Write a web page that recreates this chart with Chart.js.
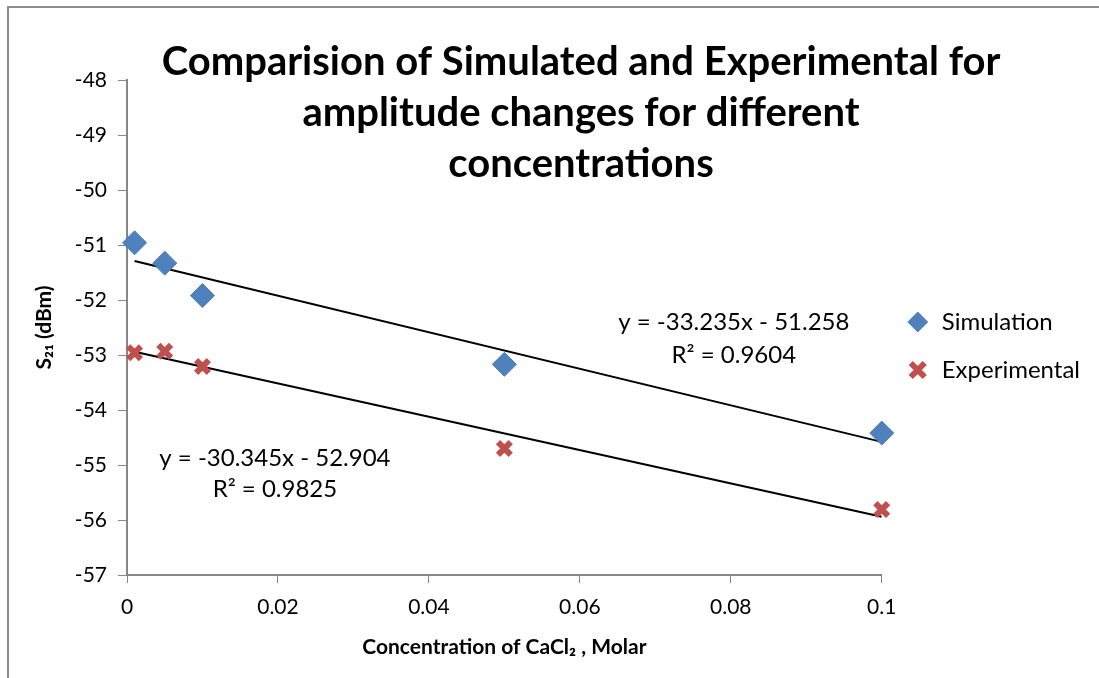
<!DOCTYPE html>
<html lang="en">
<head>
    <meta charset="UTF-8">
    <title>Simulated vs Experimental S21</title>
    <script src="https://cdn.jsdelivr.net/npm/chart.js"></script>
    <style>
        html, body {
            margin: 0;
            padding: 0;
            background: #ffffff;
        }
        .chart-wrapper {
            position: relative;
            width: 1099px;
            height: 678px;
        }
    </style>
</head>
<body>
    <div class="chart-wrapper">
        <canvas id="s21Chart"></canvas>
    </div>

    <script>
        // values
        const concentrations = [0.001, 0.005, 0.01, 0.05, 0.1];
        const simulation = [-50.96, -51.33, -51.92, -53.17, -54.42];
        const experimental = [-52.96, -52.93, -53.21, -54.70, -55.81];

        // trendline end points (x = first and last concentration)
        const trendX = [0.001, 0.1];
        const simTrend = [-51.29, -54.58];
        const expTrend = [-52.94, -55.94];

        const xTicks = ['0', '0.02', '0.04', '0.06', '0.08', '0.1'];
        const yTicks = [-57, -56, -55, -54, -53, -52, -51, -50, -49, -48];

        const titleLines = [
            'Comparision of Simulated and Experimental for',
            'amplitude changes for different',
            'concentrations'
        ];
        const trendLabels = [
            { text: 'y = -33.235x - 51.258', x: 0.0804, y: -52.40 },
            { text: 'R² = 0.9604', x: 0.0804, y: -53.00 },
            { text: 'y = -30.345x - 52.904', x: 0.0196, y: -54.87 },
            { text: 'R² = 0.9825', x: 0.0196, y: -55.45 }
        ];

        const FONT = 'Lato, Calibri, Carlito, sans-serif';
        const AXIS_GREY = '#868686';

        function toPoints(xs, ys) {
            return xs.map((x, i) => ({ x: x, y: ys[i] }));
        }

        // outer frame + title + trendline equations
        const decorations = {
            id: 'decorations',
            beforeDraw(chart) {
                const ctx = chart.ctx;
                ctx.save();
                ctx.strokeStyle = '#8c8c8c';
                ctx.lineWidth = 2;
                ctx.beginPath();
                ctx.moveTo(8, chart.height);
                ctx.lineTo(8, 7);
                ctx.lineTo(chart.width, 7);
                ctx.stroke();
                ctx.restore();
            },
            afterDraw(chart) {
                const ctx = chart.ctx;
                const xs = chart.scales.x;
                const ys = chart.scales.y;
                ctx.save();
                ctx.fillStyle = '#000000';
                ctx.textAlign = 'center';
                ctx.textBaseline = 'alphabetic';
                ctx.font = 'bold 40px ' + FONT;
                titleLines.forEach((line, i) => {
                    ctx.fillText(line, 581, 75 + i * 51);
                });
                ctx.font = '24px ' + FONT;
                ctx.textBaseline = 'middle';
                trendLabels.forEach(l => {
                    ctx.fillText(l.text, xs.getPixelForValue(l.x), ys.getPixelForValue(l.y));
                });
                ctx.restore();
            }
        };

        const config = {
            type: 'scatter',
            data: {
                datasets: [
                    {
                        label: 'Simulation',
                        data: toPoints(concentrations, simulation),
                        backgroundColor: '#4F81BD',
                        borderColor: '#4A7EBB',
                        borderWidth: 1,
                        pointStyle: 'rectRot',
                        pointRadius: 12,
                        pointHoverRadius: 12,
                        clip: false
                    },
                    {
                        label: 'Experimental',
                        data: toPoints(concentrations, experimental),
                        backgroundColor: '#C0504D',
                        borderColor: '#C0504D',
                        borderWidth: 6,
                        pointStyle: 'crossRot',
                        pointRadius: 9,
                        pointHoverRadius: 9,
                        clip: false
                    },
                    {
                        label: 'trend-sim',
                        data: toPoints(trendX, simTrend),
                        showLine: true,
                        borderColor: '#000000',
                        borderWidth: 2,
                        pointRadius: 0,
                        pointHoverRadius: 0
                    },
                    {
                        label: 'trend-exp',
                        data: toPoints(trendX, expTrend),
                        showLine: true,
                        borderColor: '#000000',
                        borderWidth: 2,
                        pointRadius: 0,
                        pointHoverRadius: 0
                    }
                ]
            },
            options: {
                responsive: true,
                maintainAspectRatio: false,
                animation: false,
                layout: {
                    padding: { top: 80, right: 9, bottom: 0, left: 0 }
                },
                plugins: {
                    legend: {
                        position: 'right',
                        fullSize: false,
                        title: {
                            display: true,
                            text: '',
                            font: { size: 10 },
                            padding: { top: 0, bottom: 25 }
                        },
                        labels: {
                            usePointStyle: true,
                            boxHeight: 14,
                            padding: 24,
                            color: '#000000',
                            font: { family: FONT, size: 24 },
                            filter: item => !item.text.startsWith('trend')
                        }
                    },
                    tooltip: { enabled: false }
                },
                scales: {
                    x: {
                        type: 'linear',
                        min: 0,
                        max: 0.1,
                        afterFit: scale => { scale.height = 103; },
                        afterBuildTicks: scale => {
                            scale.ticks = xTicks.map(t => ({ value: parseFloat(t) }));
                        },
                        grid: {
                            drawOnChartArea: false,
                            color: AXIS_GREY,
                            tickLength: 8
                        },
                        border: { color: AXIS_GREY, width: 2 },
                        ticks: {
                            color: '#000000',
                            padding: 12,
                            font: { family: FONT, size: 21 },
                            callback: (value, i) => xTicks[i]
                        },
                        title: {
                            display: true,
                            text: 'Concentration of CaCl₂ , Molar',
                            color: '#000000',
                            font: { family: FONT, size: 21, weight: 'bold' },
                            padding: { top: 4, bottom: 18 }
                        }
                    },
                    y: {
                        type: 'linear',
                        min: -57,
                        max: -48,
                        afterFit: scale => { scale.width = 127; },
                        afterBuildTicks: scale => {
                            scale.ticks = yTicks.map(v => ({ value: v }));
                        },
                        grid: {
                            drawOnChartArea: false,
                            color: AXIS_GREY,
                            tickLength: 9
                        },
                        border: { color: AXIS_GREY, width: 2 },
                        ticks: {
                            color: '#000000',
                            padding: 11,
                            font: { family: FONT, size: 21 }
                        },
                        title: {
                            display: true,
                            text: 'S₂₁ (dBm)',
                            color: '#000000',
                            font: { family: FONT, size: 21, weight: 'bold' },
                            padding: { top: 32, bottom: 0 }
                        }
                    }
                }
            },
            plugins: [decorations]
        };

        const ctx = document.getElementById('s21Chart').getContext('2d');
        const s21Chart = new Chart(ctx, config);
    </script>
</body>
</html>
